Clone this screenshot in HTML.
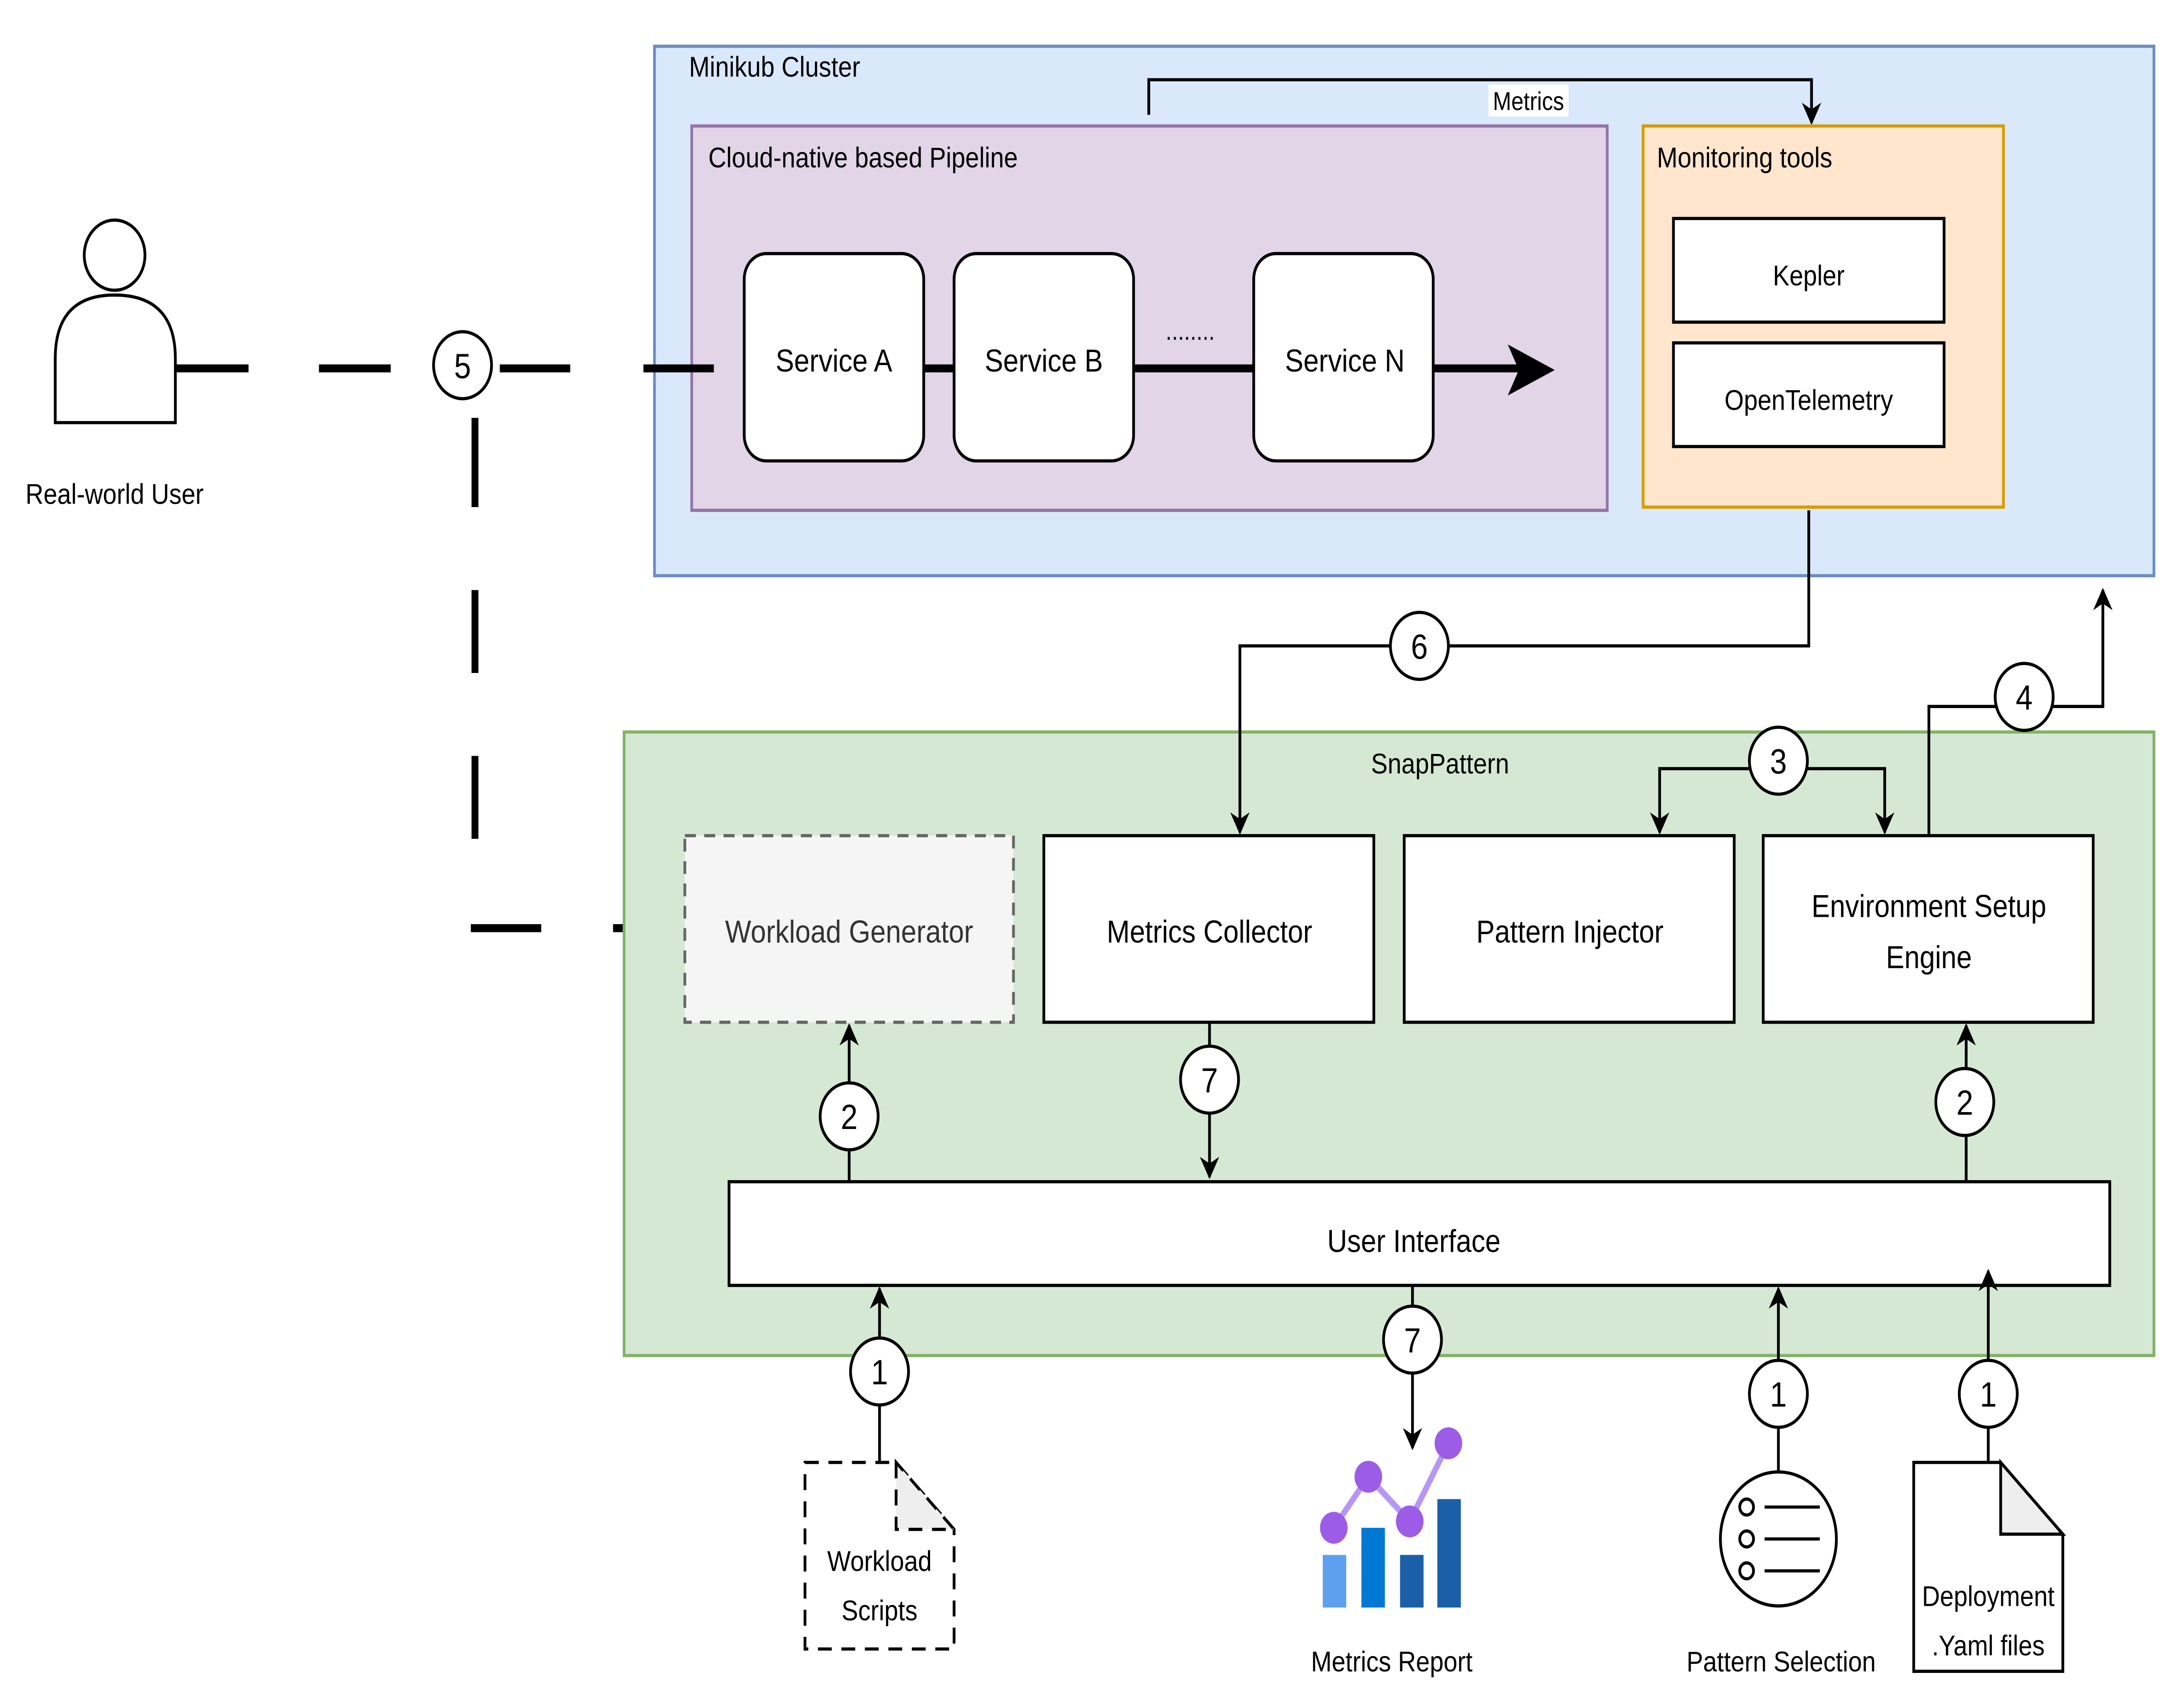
<!DOCTYPE html>
<html><head><meta charset="utf-8"><style>
html,body{margin:0;padding:0;background:#fff;overflow:hidden;width:100%;height:100%;}
svg{display:block;position:absolute;left:0;top:0;width:100vw;height:100vh;}
text{font-family:"Liberation Sans",Arial,sans-serif;fill:#000;}
</style></head><body>
<svg viewBox="0 0 1568 1071" preserveAspectRatio="none" xmlns="http://www.w3.org/2000/svg">
<defs>
<marker id="am" viewBox="0 0 10 10" refX="9" refY="5" markerWidth="14" markerHeight="14" orient="auto" markerUnits="userSpaceOnUse"><path d="M0,0 L10,5 L0,10 L3,5 z" fill="#000"/></marker>
</defs>
<rect width="1568" height="1071" fill="#fff"/>
<rect x="474" y="29" width="1086" height="332" fill="#dae8fc" stroke="#6c8ebf" stroke-width="2"/>
<text x="499" y="48" font-size="18">Minikub Cluster</text>
<rect x="501" y="79" width="663" height="241" fill="#e1d5e7" stroke="#9673a6" stroke-width="2"/>
<text x="513" y="105" font-size="18">Cloud-native based Pipeline</text>
<line x1="669" y1="231" x2="691" y2="231" stroke="#000" stroke-width="5"/>
<line x1="822" y1="231" x2="908" y2="231" stroke="#000" stroke-width="5"/>
<line x1="1039" y1="231" x2="1108" y2="231" stroke="#000" stroke-width="5"/>
<path d="M1092,216 L1126,232 L1092,248 L1100,232 z" fill="#000"/>
<rect x="539" y="159" width="130" height="130" rx="16" fill="#fff" stroke="#000" stroke-width="2"/>
<rect x="691" y="159" width="130" height="130" rx="16" fill="#fff" stroke="#000" stroke-width="2"/>
<rect x="908" y="159" width="130" height="130" rx="16" fill="#fff" stroke="#000" stroke-width="2"/>
<text x="604" y="233" font-size="20" text-anchor="middle">Service A</text>
<text x="756" y="233" font-size="20" text-anchor="middle">Service B</text>
<text x="974" y="233" font-size="20" text-anchor="middle">Service N</text>
<text x="862" y="213" font-size="16" text-anchor="middle">........</text>
<path d="M832,72 L832,50 L1312,50 L1312,77" fill="none" stroke="#000" stroke-width="2" marker-end="url(#am)"/>
<rect x="1078" y="53" width="58" height="20" fill="#fff"/>
<text x="1107" y="69" font-size="16" text-anchor="middle">Metrics</text>
<rect x="1190" y="79" width="261" height="239" fill="#ffe6cc" stroke="#d79b00" stroke-width="2"/>
<text x="1200" y="105" font-size="18">Monitoring tools</text>
<rect x="1212" y="137" width="196" height="65" fill="#fff" stroke="#000" stroke-width="2"/>
<text x="1310" y="179" font-size="18" text-anchor="middle">Kepler</text>
<rect x="1212" y="215" width="196" height="65" fill="#fff" stroke="#000" stroke-width="2"/>
<text x="1310" y="257" font-size="18" text-anchor="middle">OpenTelemetry</text>
<circle cx="83" cy="160" r="22" fill="#fff" stroke="#000" stroke-width="2"/>
<path d="M40,265 L40,225 Q40,185 83,185 Q127,185 127,225 L127,265 Z" fill="#fff" stroke="#000" stroke-width="2"/>
<text x="83" y="316" font-size="18" text-anchor="middle">Real-world User</text>
<g stroke="#000" stroke-width="5" fill="none">
<line x1="127" y1="231" x2="180" y2="231"/>
<line x1="231" y1="231" x2="283" y2="231"/>
<line x1="362" y1="231" x2="413" y2="231"/>
<line x1="466" y1="231" x2="517" y2="231"/>
<line x1="344" y1="262" x2="344" y2="318"/>
<line x1="344" y1="370" x2="344" y2="422"/>
<line x1="344" y1="474" x2="344" y2="526"/>
<line x1="341" y1="582" x2="392" y2="582"/>
<line x1="444" y1="582" x2="497" y2="582"/>
</g>
<circle cx="335" cy="229" r="21" fill="#fff" stroke="#000" stroke-width="2"/>
<text x="335" y="237" font-size="22" text-anchor="middle">5</text>
<rect x="452" y="459" width="1108" height="391" fill="#d5e8d4" stroke="#82b366" stroke-width="2"/>
<text x="1043" y="485" font-size="18" text-anchor="middle">SnapPattern</text>
<rect x="496" y="524" width="238" height="117" fill="#f5f5f5" stroke="#666" stroke-width="2" stroke-dasharray="8,6"/>
<text x="615" y="591" font-size="20" text-anchor="middle" style="fill:#333">Workload Generator</text>
<rect x="756" y="524" width="239" height="117" fill="#fff" stroke="#000" stroke-width="2"/>
<text x="876" y="591" font-size="20" text-anchor="middle">Metrics Collector</text>
<rect x="1017" y="524" width="239" height="117" fill="#fff" stroke="#000" stroke-width="2"/>
<text x="1137" y="591" font-size="20" text-anchor="middle">Pattern Injector</text>
<rect x="1277" y="524" width="239" height="117" fill="#fff" stroke="#000" stroke-width="2"/>
<text x="1397" y="575" font-size="20" text-anchor="middle">Environment Setup</text>
<text x="1397" y="607" font-size="20" text-anchor="middle">Engine</text>
<rect x="528" y="741" width="1000" height="65" fill="#fff" stroke="#000" stroke-width="2"/>
<text x="1024" y="785" font-size="20" text-anchor="middle">User Interface</text>
<g fill="none" stroke="#000" stroke-width="2">
<path d="M1310,320 L1310,405 L898,405 L898,522" marker-end="url(#am)"/>
<path d="M1288,482 L1202,482 L1202,522" marker-end="url(#am)"/>
<path d="M1288,482 L1365,482 L1365,522" marker-end="url(#am)"/>
<path d="M1397,524 L1397,443 L1523,443 L1523,370" marker-end="url(#am)"/>
<path d="M615,741 L615,643" marker-end="url(#am)"/>
<path d="M1424,741 L1424,643" marker-end="url(#am)"/>
<path d="M876,641 L876,738" marker-end="url(#am)"/>
<path d="M1023,806 L1023,908" marker-end="url(#am)"/>
<path d="M637,917 L637,808" marker-end="url(#am)"/>
<path d="M1288,922 L1288,808" marker-end="url(#am)"/>
<path d="M1440,917 L1440,797" marker-end="url(#am)"/>
</g>
<g font-size="22" text-anchor="middle">
<circle cx="1028" cy="405" r="21" fill="#fff" stroke="#000" stroke-width="2"/><text x="1028" y="413">6</text>
<circle cx="1288" cy="477" r="21" fill="#fff" stroke="#000" stroke-width="2"/><text x="1288" y="485">3</text>
<circle cx="1466" cy="437" r="21" fill="#fff" stroke="#000" stroke-width="2"/><text x="1466" y="445">4</text>
<circle cx="615" cy="700" r="21" fill="#fff" stroke="#000" stroke-width="2"/><text x="615" y="708">2</text>
<circle cx="1423" cy="691" r="21" fill="#fff" stroke="#000" stroke-width="2"/><text x="1423" y="699">2</text>
<circle cx="876" cy="677" r="21" fill="#fff" stroke="#000" stroke-width="2"/><text x="876" y="685">7</text>
<circle cx="1023" cy="840" r="21" fill="#fff" stroke="#000" stroke-width="2"/><text x="1023" y="848">7</text>
<circle cx="637" cy="860" r="21" fill="#fff" stroke="#000" stroke-width="2"/><text x="637" y="868">1</text>
<circle cx="1288" cy="874" r="21" fill="#fff" stroke="#000" stroke-width="2"/><text x="1288" y="882">1</text>
<circle cx="1440" cy="874" r="21" fill="#fff" stroke="#000" stroke-width="2"/><text x="1440" y="882">1</text>
</g>
<path d="M583,917 L649,917 L691,959 L691,1034 L583,1034 Z" fill="#fff" stroke="#000" stroke-width="2" stroke-dasharray="10,7"/>
<path d="M649,917 L649,959 L691,959 Z" fill="#eee" stroke="#000" stroke-width="2" stroke-dasharray="10,7"/>
<text x="637" y="985" font-size="18" text-anchor="middle">Workload</text>
<text x="637" y="1016" font-size="18" text-anchor="middle">Scripts</text>
<path d="M1386,917 L1449,917 L1494,962 L1494,1048 L1386,1048 Z" fill="#fff" stroke="#000" stroke-width="2"/>
<path d="M1449,917 L1449,962 L1494,962 Z" fill="#eee" stroke="#000" stroke-width="2"/>
<text x="1440" y="1007" font-size="18" text-anchor="middle">Deployment</text>
<text x="1440" y="1038" font-size="18" text-anchor="middle">.Yaml files</text>
<circle cx="1288" cy="965" r="42" fill="#fff" stroke="#000" stroke-width="2"/>
<g fill="none" stroke="#000" stroke-width="2">
<circle cx="1265" cy="945" r="5"/><circle cx="1265" cy="965" r="5"/><circle cx="1265" cy="985" r="5"/>
<line x1="1278" y1="945" x2="1318" y2="945"/><line x1="1278" y1="965" x2="1318" y2="965"/><line x1="1278" y1="985" x2="1318" y2="985"/>
</g>
<text x="1290" y="1048" font-size="18" text-anchor="middle">Pattern Selection</text>
<rect x="958" y="975" width="17" height="33" fill="#5ea0ef"/>
<rect x="986" y="958" width="17" height="50" fill="#0078d4"/>
<rect x="1014" y="975" width="17" height="33" fill="#1b5fa8"/>
<rect x="1041" y="940" width="17" height="68" fill="#1b5fa8"/>
<polyline points="966,958 991,926 1021,954 1049,905" fill="none" stroke="#b796f5" stroke-width="4"/>
<g fill="#9d5ce6"><circle cx="966" cy="958" r="10"/><circle cx="991" cy="926" r="10"/><circle cx="1021" cy="954" r="10"/><circle cx="1049" cy="905" r="10"/></g>
<text x="1008" y="1048" font-size="18" text-anchor="middle">Metrics Report</text>
</svg>
</body></html>
